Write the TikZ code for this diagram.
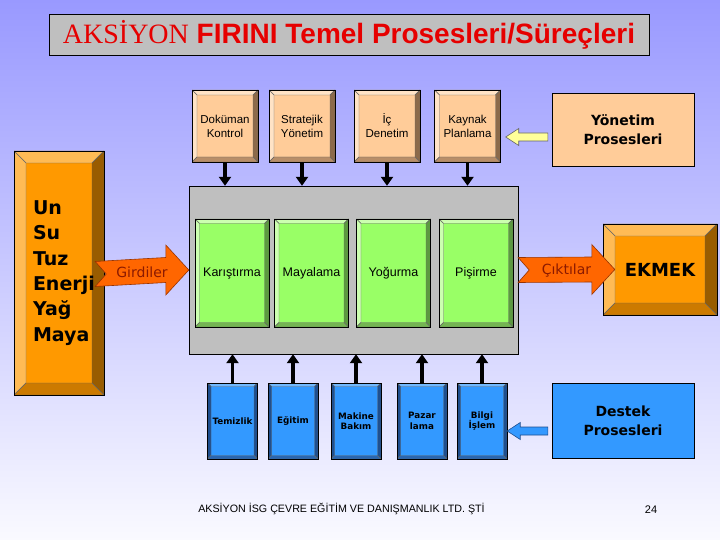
\documentclass[tikz,border=0pt]{standalone}
\usepackage{fontspec}
\setmainfont{Liberation Sans}
\newfontfamily\tahoma{DejaVu Sans}
\newfontfamily\serifhead{Liberation Serif}
\usetikzlibrary{arrows.meta,calc}

\definecolor{bgtop}{HTML}{9999FF}
\definecolor{bgbot}{HTML}{FAFAFF}
\definecolor{peachc}{HTML}{FFCC99}
\definecolor{peachlt}{HTML}{FFE3C6}
\definecolor{peachdk}{HTML}{8C6A4A}
\definecolor{peachbt}{HTML}{B88E68}
\definecolor{greenc}{HTML}{99FF66}
\definecolor{greenlt}{HTML}{CCFFB0}
\definecolor{greendk}{HTML}{5C9940}
\definecolor{greenbt}{HTML}{74B552}
\definecolor{bluec}{HTML}{3399FF}
\definecolor{bluelt}{HTML}{70B8FF}
\definecolor{bluedk}{HTML}{1F4F8F}
\definecolor{bluebt}{HTML}{2A66B0}
\definecolor{orangec}{HTML}{FF9900}
\definecolor{orangelt}{HTML}{FFBB55}
\definecolor{orangedk}{HTML}{995C00}
\definecolor{orangebt}{HTML}{CC7A00}
\definecolor{flowc}{HTML}{FF6600}
\definecolor{flowdk}{HTML}{993300}
\definecolor{flowtext}{HTML}{8B1A00}
\definecolor{titlered}{HTML}{E60000}
\definecolor{hintyellow}{HTML}{FFFF99}

% bevel faces of a raised box: top, left, right, bottom, depth
\newcommand\bevelfaces[5]{%
  \coordinate (bvA) at (path picture bounding box.north west);
  \coordinate (bvB) at (path picture bounding box.north east);
  \coordinate (bvC) at (path picture bounding box.south east);
  \coordinate (bvD) at (path picture bounding box.south west);
  \filldraw[fill=#1,draw=black!60,line width=.4pt] (bvA) -- (bvB) -- ([shift={(-#5,-#5)}]bvB) -- ([shift={(#5,-#5)}]bvA) -- cycle;
  \filldraw[fill=#2,draw=black!60,line width=.4pt] (bvA) -- ([shift={(#5,-#5)}]bvA) -- ([shift={(#5,#5)}]bvD) -- (bvD) -- cycle;
  \filldraw[fill=#3,draw=black!60,line width=.4pt] (bvB) -- (bvC) -- ([shift={(-#5,#5)}]bvC) -- ([shift={(-#5,-#5)}]bvB) -- cycle;
  \filldraw[fill=#4,draw=black!60,line width=.4pt] (bvD) -- ([shift={(#5,#5)}]bvD) -- ([shift={(-#5,#5)}]bvC) -- (bvC) -- cycle;
}

% notched flow arrow from #1 to #2 with label #3
\newcommand\chevarrow[3]{%
  \draw[flowarrow] ($(#1)+(0,-12.5)$) -- ($(#2)+(-23,-12.5)$) -- ($(#2)+(-23,-25)$) -- (#2)
    -- ($(#2)+(-23,25)$) -- ($(#2)+(-23,12.5)$) -- ($(#1)+(0,12.5)$) -- ($(#1)+(11,0)$) -- cycle;
  \node[flowlabel] at ($(#1)!.5!(#2)$) {#3};
}

% left pointing block arrow: style, tail, tip
\newcommand\leftblock[3]{%
  \draw[#1] ($(#2)+(0,-4)$) -- ($(#3)+(13,-4)$) -- ($(#3)+(13,-8.5)$) -- (#3)
    -- ($(#3)+(13,8.5)$) -- ($(#3)+(13,4)$) -- ($(#2)+(0,4)$) -- cycle;
}

\begin{document}
\begin{tikzpicture}[x=1pt,y=-1pt,
    bevelled/.style n args={5}{path picture={\bevelfaces{#1}{#2}{#3}{#4}{#5}}},
    titlebox/.style ={draw=black, fill=black!25, minimum width=600pt, minimum height=41pt,
                      text=titlered, font=\fontsize{28}{30}\selectfont},
    mgmtbox/.style  ={draw=black, fill=peachc, inner sep=0pt, minimum width=66pt, minimum height=72pt,
                      align=center, font=\fontsize{11.5}{14}\selectfont,
                      bevelled={peachlt}{peachlt}{peachdk}{peachbt}{5pt}},
    stepbox/.style  ={draw=black, fill=greenc, inner sep=0pt, minimum width=74pt, minimum height=108pt,
                      text height=9pt, text depth=3pt, font=\fontsize{12.5}{14}\selectfont,
                      bevelled={greenlt}{greenlt}{greendk}{greenbt}{4.5pt}},
    supbox/.style   ={draw=black, fill=bluec, inner sep=0pt, minimum width=50pt, minimum height=76pt,
                      align=center, font=\tahoma\bfseries\fontsize{8.8}{10.5}\selectfont,
                      bevelled={bluelt}{bluedk}{bluedk}{bluebt}{3.5pt}},
    rawbox/.style   ={draw=black, fill=orangec, inner sep=0pt,
                      bevelled={orangelt}{orangelt}{orangedk}{orangebt}{12pt}},
    groupbox/.style ={draw=black, inner sep=0pt, minimum width=142pt, align=center,
                      font=\tahoma\bfseries\fontsize{14}{19}\selectfont},
    downarrow/.style={line width=3.5pt, -{Triangle[length=9pt,width=12pt]}},
    flowarrow/.style={fill=flowc, draw=flowdk, line width=.6pt},
    flowlabel/.style={text=flowtext, inner sep=0pt, text height=10pt, text depth=0pt, font=\tahoma\fontsize{14}{16}\selectfont},
    yellowarr/.style={fill=hintyellow, draw=black!60, line width=.6pt},
    bluearr/.style  ={fill=bluec, draw=bluedk, line width=.6pt}]

  \useasboundingbox (0,0) rectangle (720,540);
  \shade[top color=bgtop, bottom color=bgbot] (0,0) rectangle (720,540);

  \node[titlebox] (title) at (349,34.5) {{\serifhead AKSİYON} \textbf{FIRINI Temel Prosesleri/Süreçleri}};

  % management processes
  \node[mgmtbox] (dok) at (225,126)   {Doküman\\Kontrol};
  \node[mgmtbox] (str) at (302,126)   {Stratejik\\Yönetim};
  \node[mgmtbox] (ic)  at (387,126)   {İç\\Denetim};
  \node[mgmtbox] (kay) at (467.5,126) {Kaynak\\Planlama};
  \node[groupbox, fill=peachc, minimum height=73pt] (yon) at (623,129.5) {Yönetim\\Prosesleri};

  % main process
  \node[draw=black, fill=black!25, minimum width=329pt, minimum height=168pt] (proc) at (353.5,270) {};
  \node[stepbox] (kar) at (232,273)   {Karıştırma};
  \node[stepbox] (may) at (311.5,273) {Mayalama};
  \node[stepbox] (yog) at (393.5,273) {Yoğurma};
  \node[stepbox] (pis) at (476,273)   {Pişirme};

  % inputs and output
  \node[rawbox, minimum width=90pt, minimum height=244pt, text width=52pt, align=left,
        font=\tahoma\bfseries\fontsize{19}{25.4}\selectfont] (inp) at (59,273)
        {Un\\Su\\Tuz\\Enerji\\Yağ\\Maya};
  \node[rawbox, minimum width=114pt, minimum height=91pt,
        font=\tahoma\bfseries\fontsize{18}{20}\selectfont] (ekm) at (660,269.5) {EKMEK};

  % support processes
  \node[supbox] (tem) at (232.5,421) {Temizlik};
  \node[supbox] (egi) at (293,421)   {Eğitim};
  \node[supbox] (mak) at (356,421)   {Makine\\Bakım};
  \node[supbox] (paz) at (422,421)   {Pazar\\lama};
  \node[supbox] (bil) at (482,421)   {Bilgi\\İşlem};
  \node[groupbox, fill=bluec, minimum height=75pt] (des) at (623,420.5) {Destek\\Prosesleri};

  \foreach \b in {dok,str,ic,kay}
    \draw[downarrow] (\b.south) -- (\b.south |- proc.north);
  \foreach \b in {tem,egi,mak,paz,bil}
    \draw[downarrow] (\b.north) -- (\b.north |- proc.south);

  \coordinate (gin) at ([xshift=-9pt,yshift=-1pt]inp.east);
  \chevarrow{gin}{proc.west}{Girdiler}
  \coordinate (cout) at ([xshift=12pt]ekm.west);
  \chevarrow{proc.east}{cout}{Çıktılar}

  \coordinate (ya) at ([xshift=-4pt,yshift=-7.5pt]yon.west);
  \path (kay.east |- ya) ++(5,0) coordinate (yb);
  \leftblock{yellowarr}{ya}{yb}
  \coordinate (ba) at ([xshift=-4pt,yshift=-10.5pt]des.west);
  \path (bil.east |- ba) ++(0,0) coordinate (bb);
  \leftblock{bluearr}{ba}{bb}

  \node[font=\fontsize{10.7}{12}\selectfont] (foot) at (341.5,509) {AKSİYON İSG ÇEVRE EĞİTİM VE DANIŞMANLIK LTD. ŞTİ};
  \node[font=\fontsize{11}{12}\selectfont] (page) at (651,510) {24};
\end{tikzpicture}
\end{document}
